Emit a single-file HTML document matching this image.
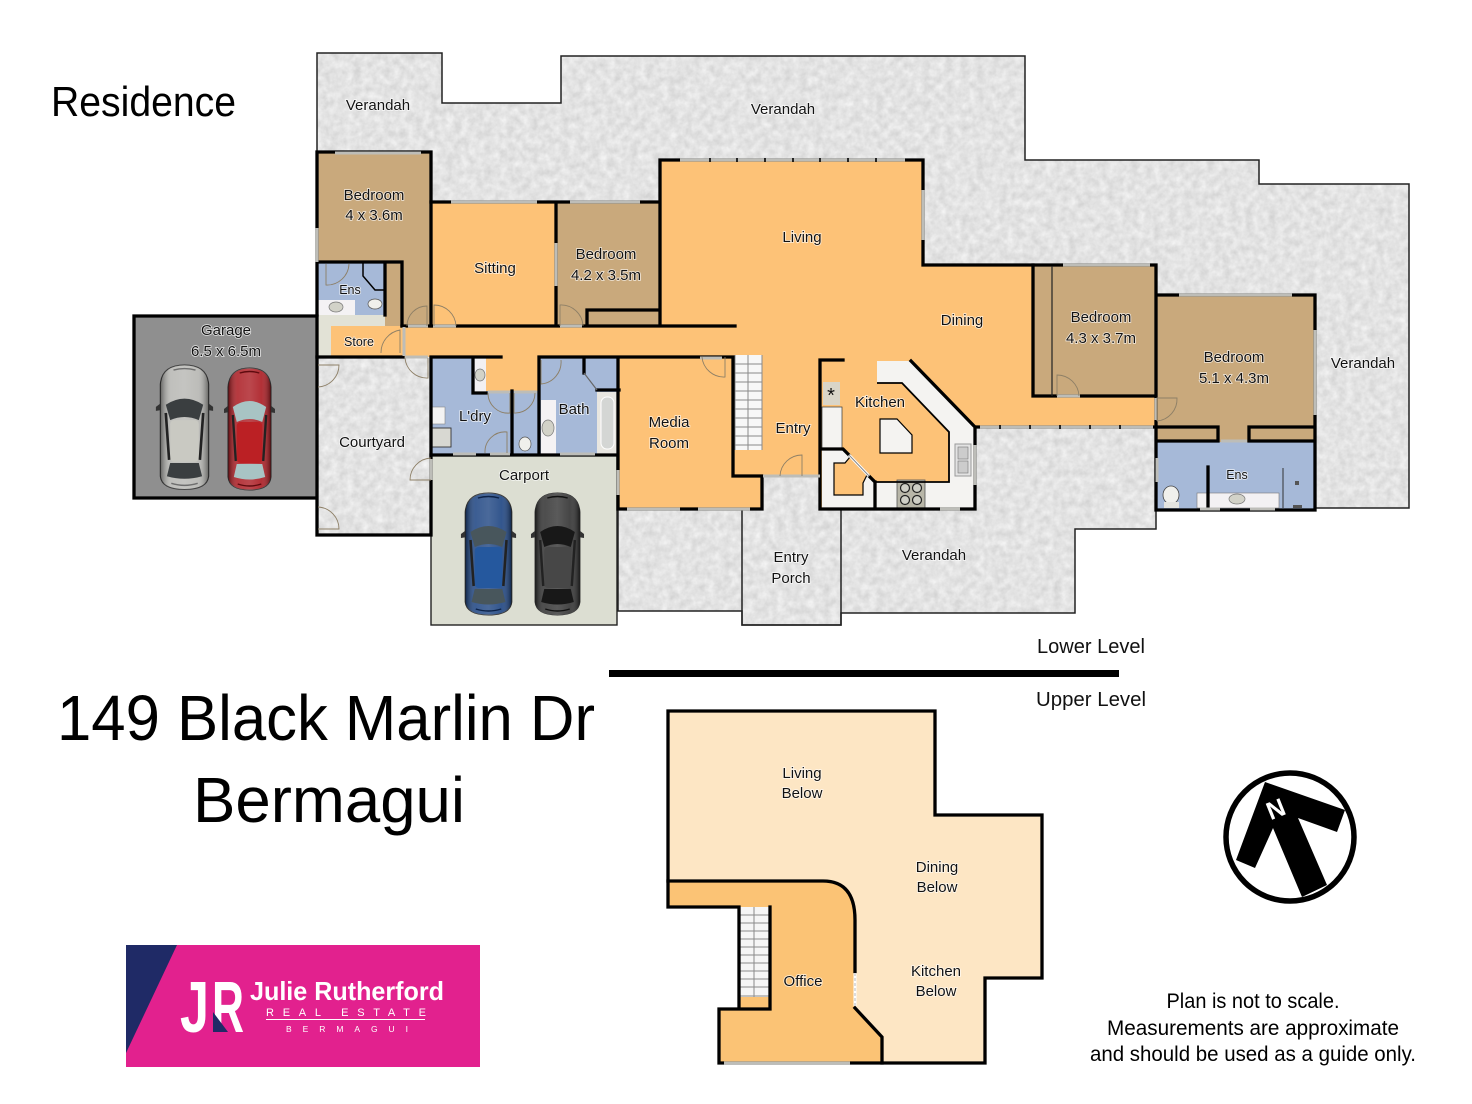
<!DOCTYPE html>
<html><head><meta charset="utf-8"><style>
html,body{margin:0;padding:0;background:#fff}
svg{display:block}
text{font-family:"Liberation Sans",sans-serif;fill:#111}
.l{font-size:15px;text-anchor:middle;paint-order:stroke;stroke:#fff;stroke-width:1.6px;stroke-opacity:.75}
.s{font-size:12.5px}
.w{fill:none;stroke:#000;stroke-width:3.3;stroke-linecap:square;stroke-linejoin:miter}
.t{fill:none;stroke:#000;stroke-width:1.8}
.g{fill:none;stroke:#bdbdb8;stroke-width:3}
.d{fill:none;stroke:#8d7f66;stroke-width:.9}
.big{font-size:64px;fill:#000}
.note{font-size:21px;text-anchor:middle;fill:#000}
.c1{fill:var(--b)}.c2{fill:var(--h)}.c3{fill:var(--w)}.c4{stroke:var(--o);fill:none}
</style></head><body>
<svg xmlns="http://www.w3.org/2000/svg" width="1472" height="1104" viewBox="0 0 1472 1104">
<defs>
<filter id="noise" x="0" y="0" width="100%" height="100%" color-interpolation-filters="sRGB">
<feTurbulence type="fractalNoise" baseFrequency="0.13" numOctaves="3" seed="4"/>
<feColorMatrix type="matrix" values="0.16 0 0 0 0.81  0.16 0 0 0 0.81  0.16 0 0 0 0.81  0 0 0 0 1"/>
<feComposite in2="SourceAlpha" operator="in"/>
</filter>
<linearGradient id="shade" x1="0" x2="1" y1="0" y2="0">
<stop offset="0" stop-color="#000" stop-opacity=".45"/><stop offset=".22" stop-color="#fff" stop-opacity=".16"/>
<stop offset=".5" stop-color="#fff" stop-opacity=".22"/><stop offset=".78" stop-color="#fff" stop-opacity=".12"/>
<stop offset="1" stop-color="#000" stop-opacity=".45"/>
</linearGradient>
<g id="car">
<path d="M4 38L-1 42V46L5 45ZM46 38L51 42V46L45 45Z" fill="#333"/>
<path d="M25 1C38 1 46 7 47 20V110C46 120 36 123 25 123C14 123 4 120 3 110V20C4 7 12 1 25 1Z" class="c1" stroke="#333" stroke-width="1"/>
<path d="M25 1C38 1 46 7 47 20V110C46 120 36 123 25 123C14 123 4 120 3 110V20C4 7 12 1 25 1Z" fill="url(#shade)"/>
<path d="M8 40Q25 28 42 40L38 55Q25 49 12 55Z" class="c3"/>
<rect x="12" y="55" width="26" height="41" rx="4" class="c2"/>
<path d="M12 97H38L41 110Q25 115 9 110Z" class="c3"/>
<path d="M8 48L11 94M42 48L39 94" stroke="#222" stroke-width="2.4" fill="none"/>
<path d="M15 6Q25 3 35 6M13 117Q25 121 37 117" class="c4" stroke-width="1.4"/>
</g>
</defs>
<rect width="1472" height="1104" fill="#fff"/>

<!-- verandah -->
<polygon points="317,53 442,53 442,103 561,103 561,56 1025,56 1025,160 1259,160 1259,184 1409,184 1409,508 1156,508 1156,529 1075,529 1075,613 841,613 841,625 742,625 742,611 618,611 618,500 431,500 431,535 317,535 317,152" fill="#000" filter="url(#noise)"/>
<polygon points="317,53 442,53 442,103 561,103 561,56 1025,56 1025,160 1259,160 1259,184 1409,184 1409,508 1156,508 1156,529 1075,529 1075,613 841,613 841,625 742,625 742,611 618,611 618,500 431,500 431,535 317,535 317,152" fill="none" stroke="#222" stroke-width="1.5"/>
<rect x="742" y="476" width="99" height="149" fill="none" stroke="#222" stroke-width="1.5"/>

<!-- rooms lower -->
<rect x="133" y="315" width="184" height="184" fill="#8f8f8f"/>
<rect x="317" y="315" width="86" height="42" fill="#e2e2d6"/>
<rect x="431" y="455" width="186" height="170" fill="#dcded2" stroke="#222" stroke-width="1.4"/>
<polygon points="317,152 431,152 431,326 385,326 385,315 317,315" fill="#c9a97c"/>
<rect x="317" y="262" width="68" height="53" fill="#a6b9d8"/>
<rect x="431" y="202" width="125" height="124" fill="#fdc277"/>
<rect x="556" y="202" width="104" height="124" fill="#c9a97c"/>
<polygon points="660,160 923,160 923,265 1033,265 1033,397 1156,397 1156,427 977,427 975,427 911,361 877,361 820,360 820,476 733,476 733,357 403,357 331,357 331,326 660,326" fill="#fdc277"/>
<polygon points="618,357 733,357 733,476 762,476 762,509 618,509" fill="#fdc277"/>
<polygon points="735,355 821,355 821,476 735,476" fill="#fdc277"/>
<rect x="431" y="357" width="80" height="97" fill="#a6b9d8"/>
<rect x="512" y="391" width="27" height="63" fill="#a6b9d8"/>
<rect x="539" y="357" width="80" height="97" fill="#a6b9d8"/>
<rect x="486" y="355" width="53" height="36" fill="#fdc277"/>
<rect x="473" y="357" width="13" height="36" fill="#f2f0f2"/>
<rect x="541" y="400" width="15" height="54" fill="#f4f2f4"/>
<rect x="597" y="392" width="21" height="62" fill="#e8e6e0"/>
<rect x="601" y="397" width="13" height="52" rx="6" fill="#d4d6d4" stroke="#fff"/>
<ellipse cx="548" cy="428" rx="6" ry="8" fill="#d2d2c8" stroke="#777" stroke-width=".7"/>
<ellipse cx="480" cy="375" rx="5" ry="6" fill="#d2d2c8" stroke="#777" stroke-width=".7"/>
<rect x="318" y="300" width="37" height="15" fill="#f4f2f4"/>
<ellipse cx="336" cy="307" rx="7" ry="5" fill="#d2d2c8" stroke="#777" stroke-width=".7"/>
<ellipse cx="375" cy="304" rx="7" ry="5" fill="#f0f0ec" stroke="#555" stroke-width=".7"/>
<path d="M363 263V276L375 290H385" fill="none" stroke="#000" stroke-width="1.5"/>
<rect x="431" y="407" width="14" height="17" fill="#f3f3f3" stroke="#888" stroke-width=".6"/>
<rect x="432" y="428" width="19" height="19" fill="#d8d8d2" stroke="#333" stroke-width=".9"/>
<ellipse cx="525" cy="444" rx="6" ry="7" fill="#f0f0ec" stroke="#555" stroke-width=".7"/>

<!-- kitchen -->
<polygon points="821,360 877,360 877,383 902,383 949,432 949,482 875,482 875,509 821,509" fill="#fdc277"/>
<polygon points="877,361 911,361 975,427 975,509 875,509 875,482 949,482 949,432 902,383 877,383" fill="#f4f3f1"/>
<polygon points="822,449 843,449 875,482 875,509 822,509" fill="#f4f3f1"/>
<polygon points="834,463 845,463 850,457 867,475 863,483 863,495 834,495" fill="#fdc277" stroke="#000" stroke-width="1.2"/>
<rect x="822" y="407" width="20" height="42" fill="#f4f3f1" stroke="#333" stroke-width=".7"/>
<rect x="823" y="382" width="17" height="23" fill="#d9d5c8"/>
<text x="831" y="402" font-size="20" text-anchor="middle">*</text>
<polygon points="880,419 897,419 912,435 912,453 880,453" fill="#f4f3f1" stroke="#000" stroke-width="1.2"/>
<rect x="897" y="480" width="28" height="28" fill="#b8b6a8" stroke="#555" stroke-width=".8"/>
<g fill="#cfcfc6" stroke="#222" stroke-width="1.2"><circle cx="905" cy="488" r="4.5"/><circle cx="917" cy="488" r="4.5"/><circle cx="905" cy="500" r="4.5"/><circle cx="917" cy="500" r="4.5"/></g>
<rect x="955" y="444" width="16" height="32" fill="#e3e3e3" stroke="#999"/>
<rect x="958" y="447" width="10" height="12" fill="#ccc" stroke="#777" stroke-width=".6"/>
<rect x="958" y="461" width="10" height="12" fill="#ccc" stroke="#777" stroke-width=".6"/>

<!-- right wing -->
<rect x="1033" y="265" width="123" height="131" fill="#c9a97c"/>
<polygon points="1156,295 1315,295 1315,442 1156,442" fill="#c9a97c"/>
<rect x="1156" y="442" width="159" height="68" fill="#a6b9d8"/>
<rect x="1197" y="493" width="82" height="15" fill="#f3f1f3" stroke="#777" stroke-width=".6"/>
<ellipse cx="1237" cy="499" rx="8" ry="5" fill="#d2d2c8" stroke="#777" stroke-width=".7"/>
<ellipse cx="1171" cy="495" rx="8" ry="9" fill="#f0f0ec" stroke="#444" stroke-width=".8"/>
<rect x="1164" y="502" width="15" height="6" fill="#e4e4e0"/>
<rect x="1295" y="481" width="4" height="4" fill="#555"/>
<rect x="1293" y="505" width="9" height="3" fill="#555"/>

<!-- stairs -->
<g>
<rect x="735" y="355" width="27" height="95" fill="#f7f7f7"/>
<path d="M735 364H762M735 373H762M735 382H762M735 391H762M735 400H762M735 409H762M735 418H762M735 427H762M735 436H762M735 445H762M748 355V450M735 355V450M762 355V450" stroke="#8a8a8a" stroke-width="1"/>
</g>

<!-- walls lower -->
<path class="w" d="M317 152H431V326M317 152V315M317 262H402V326M385 262V315"/>
<path class="w" d="M134 316H317V357M134 316V498H316"/>
<path class="w" d="M431 202H660M556 202V326M660 160V326M660 160H923V265H1033M402 326H735M587 326V310H660"/>
<path class="w" d="M317 357H403M317 357V535H431V455"/>
<path class="w" d="M431 357H501M431 357V455H617M539 357H733M539 357V454M512 391V454M473 357V393H486M584 357V373M597 390H619M618 357V509H762V476H733V357"/>
<path class="w" d="M820 360H843M820 360V509H975V427L911 361M875 482V509M820 449H843L849 455M869 476L875 482"/>
<path d="M877 383H902L949 432V482H875" fill="none" stroke="#000" stroke-width="1.8"/>
<path d="M584 373L597 390" stroke="#666" stroke-width="1.2"/>
<path d="M849 455L869 476" stroke="#fff" stroke-width="3"/>
<path d="M849 455L869 476" stroke="#888" stroke-width="1"/>
<path class="w" d="M1033 265H1156V396H1033ZM1156 295H1315V510H1156V396M1156 427H1218V441H1156M1249 441V427H1315M1249 441H1315M1208 467V508"/>
<path class="w" d="M977 427H1156"/>
<path d="M1052 266V396" stroke="#222" stroke-width="1.2"/>
<path d="M1283 468V508" stroke="#333" stroke-width="1"/>

<!-- windows -->
<path class="g" d="M335 153H421M317 228V262M451 202H537M570 202H640M556 243V286M404 327V356M680 160H905M923 190V240M618 470V495M627 509H680M698 509H750M763 476H820M405 357H428M431 459V480M488 392H510M514 392H537M453 454H476M490 454H510M560 454H595M980 427H1153M975 445V485M940 509H960M1063 265H1150M1179 295H1292M1315 330V415M1156 398V420M1157 458V482M1221 441H1247M1200 509H1220M1250 509H1275M722 358H700M433 326H456M560 326H582M408 326H428M1057 396H1080"/>
<path d="M710 158v4M737 158v4M765 158v4M793 158v4M820 158v4M848 158v4M876 158v4M1000 425v4M1030 425v4M1060 425v4M1090 425v4M1120 425v4" stroke="#000" stroke-width="1.6"/>

<!-- doors -->
<path class="d" d="M427 326V306A20 20 0 0 0 407 326"/>
<path class="d" d="M434 326V305A22 22 0 0 1 456 326"/>
<path class="d" d="M560 326V305A22 22 0 0 1 583 326"/>
<path class="d" d="M400 353V330A23 23 0 0 0 381 353"/>
<path class="d" d="M405 358A22 22 0 0 0 428 378V358"/>
<path class="d" d="M318 365H339A22 22 0 0 1 318 387"/>
<path class="d" d="M318 507A22 22 0 0 1 339 529H318"/>
<path class="d" d="M431 458A22 22 0 0 0 410 480H431"/>
<path class="d" d="M326 264V285A22 22 0 0 0 349 264"/>
<path class="d" d="M510 393V413A20 20 0 0 1 488 393"/>
<path class="d" d="M514 393V413A20 20 0 0 0 535 393"/>
<path class="d" d="M507 453V432A20 20 0 0 0 485 453"/>
<path class="d" d="M541 360V384A22 22 0 0 0 561 360"/>
<path class="d" d="M725 357V377A22 22 0 0 1 702 357"/>
<path class="d" d="M802 476V455A22 22 0 0 0 780 476"/>
<path class="d" d="M1057 396V375A22 22 0 0 1 1079 396"/>
<path class="d" d="M1157 421V398H1177A22 22 0 0 1 1157 421"/>

<!-- cars -->
<use href="#car" transform="translate(157 364) scale(1.1 1.02)" style="--b:#b4b4b0;--h:#c9c9c2;--w:#3a3e40;--o:#6e6e6e"/>
<use href="#car" transform="translate(225 367) scale(.98 1.0)" style="--b:#a8141b;--h:#bb2024;--w:#a8c4c4;--o:#5e0a0e"/>
<use href="#car" transform="translate(462 492) scale(1.06 1.0)" style="--b:#173f7e;--h:#25589e;--w:#48565c;--o:#0c2248"/>
<use href="#car" transform="translate(532 492) scale(1.02 1.0)" style="--b:#2c2c2c;--h:#474747;--w:#181818;--o:#111"/>

<!-- labels lower -->
<text class="l" x="378" y="110">Verandah</text>
<text class="l" x="783" y="114">Verandah</text>
<text class="l" x="374" y="200">Bedroom</text><text class="l" x="374" y="220">4 x 3.6m</text>
<text class="l s" x="350" y="294">Ens</text>
<text class="l" x="495" y="273">Sitting</text>
<text class="l" x="606" y="259">Bedroom</text><text class="l" x="606" y="280">4.2 x 3.5m</text>
<text class="l" x="802" y="242">Living</text>
<text class="l" x="962" y="325">Dining</text>
<text class="l" x="1101" y="322">Bedroom</text><text class="l" x="1101" y="343">4.3 x 3.7m</text>
<text class="l" x="1234" y="362">Bedroom</text><text class="l" x="1234" y="383">5.1 x 4.3m</text>
<text class="l" x="1363" y="368">Verandah</text>
<text class="l" x="226" y="335">Garage</text><text class="l" x="226" y="356">6.5 x 6.5m</text>
<text class="l s" x="359" y="346">Store</text>
<text class="l" x="372" y="447">Courtyard</text>
<text class="l" x="475" y="421">L'dry</text>
<text class="l" x="574" y="414">Bath</text>
<text class="l" x="524" y="480">Carport</text>
<text class="l" x="669" y="427">Media</text><text class="l" x="669" y="448">Room</text>
<text class="l" x="793" y="433">Entry</text>
<text class="l" x="880" y="407">Kitchen</text>
<text class="l" x="791" y="562">Entry</text><text class="l" x="791" y="583">Porch</text>
<text class="l" x="934" y="560">Verandah</text>
<text class="l s" x="1237" y="479">Ens</text>

<!-- divider -->
<rect x="609" y="670" width="510" height="7" fill="#000"/>
<text x="1037" y="653" font-size="20" textLength="108" lengthAdjust="spacingAndGlyphs">Lower Level</text>
<text x="1036" y="706" font-size="20" textLength="110" lengthAdjust="spacingAndGlyphs">Upper Level</text>

<!-- upper -->
<polygon points="668,711 935,711 935,815 1042,815 1042,978 985,978 985,1063 882,1063 882,1037 855,1008 855,913 823,881 668,881" fill="#fde6c4"/>
<path d="M668 881H823Q855 881 855 920V1008L882 1037V1063H719V1009H739V907H668Z" fill="#fbc375"/>
<rect x="740" y="907" width="29" height="90" fill="#f6f6f6"/>
<path d="M740 915H769M740 923H769M740 931H769M740 939H769M740 947H769M740 955H769M740 963H769M740 971H769M740 979H769M740 987H769M740 996H769M754 907V997" stroke="#8a8a8a" stroke-width="1"/>
<path class="w" d="M668 881V711H935V815H1042V978H985V1063H719V1009H770V907M668 881V907H739V1009"/>
<path class="w" d="M668 881H823Q855 881 855 920V972M855 1008L882 1037V1063"/>
<path class="g" d="M724 1063H850"/>
<path d="M855 973V1006" stroke="#fff" stroke-width="3"/>
<path d="M855 973V1006" stroke="#bbb" stroke-width="1" stroke-dasharray="3 2"/>
<text class="l" x="802" y="778">Living</text><text class="l" x="802" y="798">Below</text>
<text class="l" x="937" y="872">Dining</text><text class="l" x="937" y="892">Below</text>
<text class="l" x="936" y="976">Kitchen</text><text class="l" x="936" y="996">Below</text>
<text class="l" x="803" y="986">Office</text>

<!-- titles -->
<text x="51" y="116" font-size="42" textLength="185" lengthAdjust="spacingAndGlyphs" style="fill:#000">Residence</text>
<text class="big" x="57" y="740" textLength="538" lengthAdjust="spacingAndGlyphs">149 Black Marlin Dr</text>
<text class="big" x="193" y="822" textLength="272" lengthAdjust="spacingAndGlyphs">Bermagui</text>

<!-- north arrow -->
<circle cx="1290" cy="837" r="64" fill="#fff" stroke="#000" stroke-width="5.5"/>
<polygon points="1265,782 1345,810 1337,832 1298,818 1327,885 1302,897 1273,828 1255,868 1236,860" fill="#000"/>
<text x="0" y="0" font-size="25" font-weight="bold" text-anchor="middle" transform="translate(1279 817) rotate(-22)" style="fill:#fff">N</text>

<!-- logo -->
<rect x="126" y="945" width="354" height="122" fill="#e2218e"/>
<polygon points="126,945 177,945 126,1053" fill="#1f2a66"/>
<text x="180" y="1032" font-size="72" font-weight="bold" textLength="29" lengthAdjust="spacingAndGlyphs" style="fill:#fff">J</text>
<text x="212" y="1032" font-size="72" font-weight="bold" textLength="32" lengthAdjust="spacingAndGlyphs" style="fill:#fff">R</text>
<polygon points="213,1012 213,1032 228,1032" fill="#1f2a66"/>
<text x="250" y="1000" font-size="26" textLength="194" lengthAdjust="spacingAndGlyphs" style="fill:#fff;font-weight:bold">Julie Rutherford</text>
<text x="266" y="1016" font-size="11" textLength="160" style="fill:#fff">REAL ESTATE</text>
<rect x="266" y="1019" width="159" height="1" fill="#fff"/>
<text x="286" y="1032" font-size="8.5" textLength="122" style="fill:#fff">BERMAGUI</text>

<!-- note -->
<text class="note" x="1253" y="1008" textLength="173" lengthAdjust="spacingAndGlyphs">Plan is not to scale.</text>
<text class="note" x="1253" y="1035" textLength="292" lengthAdjust="spacingAndGlyphs">Measurements are approximate</text>
<text class="note" x="1253" y="1061" textLength="326" lengthAdjust="spacingAndGlyphs">and should be used as a guide only.</text>
</svg>
</body></html>
